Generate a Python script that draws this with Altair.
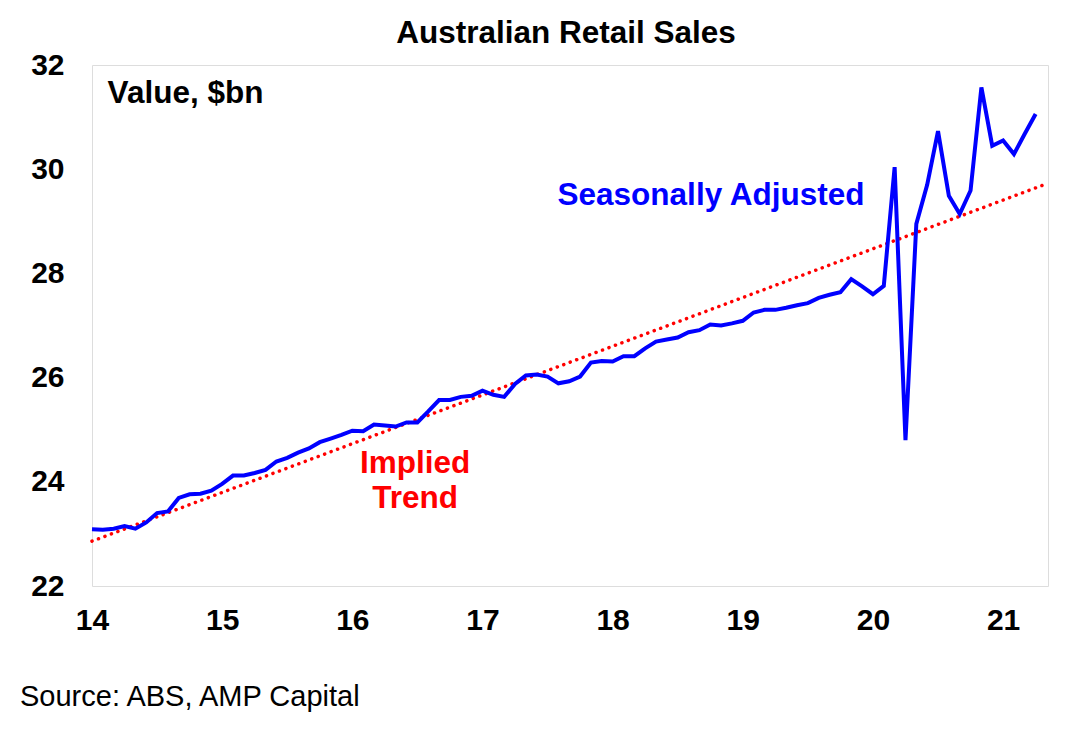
import altair as alt
import pandas as pd

# Monthly retail sales, Jan 2014 .. Apr 2021 ($bn, seasonally adjusted)
sales = [23.09, 23.08, 23.10, 23.15, 23.10, 23.22, 23.40, 23.43, 23.69, 23.76, 23.77, 23.83,
         23.96, 24.12, 24.12, 24.17, 24.23, 24.39, 24.46, 24.56, 24.64, 24.76, 24.83, 24.90,
         24.98, 24.97, 25.10, 25.08, 25.06, 25.14, 25.14, 25.35, 25.57, 25.57, 25.63, 25.65,
         25.75, 25.67, 25.63, 25.88, 26.04, 26.06, 26.02, 25.89, 25.93, 26.02, 26.29, 26.32,
         26.31, 26.41, 26.41, 26.56, 26.69, 26.73, 26.77, 26.87, 26.91, 27.02, 27.00, 27.04,
         27.09, 27.25, 27.30, 27.30, 27.34, 27.39, 27.43, 27.53, 27.59, 27.64, 27.89, 27.75,
         27.60, 27.76, 30.04, 24.80, 28.95, 29.70, 30.73, 29.49, 29.14, 29.59, 31.57, 30.45,
         30.55, 30.29, 30.68, 31.06]
start_year = 14

trend_x = [14.0, 21.345]
trend_y = [22.86, 29.73]

label_text = ["Value, $bn", "Seasonally Adjusted", "Implied", "Trend"]
label_x = [14.12, 18.756, 16.483, 16.483]
label_y = [31.27, 29.31, 24.17, 23.50]
label_color = ["#000000", "#0000FF", "#FF0000", "#FF0000"]
label_align = ["left", "center", "center", "center"]

x_ticks = [14, 15, 16, 17, 18, 19, 20, 21]
y_ticks = [22, 24, 26, 28, 30, 32]

FONT = "Liberation Sans"

sa = pd.DataFrame({"x": [start_year + i / 12 for i in range(len(sales))], "y": sales})
tr = pd.DataFrame({"x": trend_x, "y": trend_y})
lab = pd.DataFrame({"text": label_text, "x": label_x, "y": label_y,
                    "color": label_color, "align": label_align})

xs = alt.Scale(domain=[14, 21.345], nice=False, zero=False)
ys = alt.Scale(domain=[22, 32], nice=False, zero=False)

xaxis = alt.Axis(values=x_ticks, format="d", title=None, grid=False, ticks=False, domain=False,
                 labelFont=FONT, labelFontSize=30, labelFontWeight="bold", labelColor="#000000",
                 labelPadding=19, labelFlush=False)
yaxis = alt.Axis(values=y_ticks, format="d", title=None, grid=False, ticks=False, domain=False,
                 labelFont=FONT, labelFontSize=30, labelFontWeight="bold", labelColor="#000000",
                 labelPadding=28)

trend = alt.Chart(tr).mark_line(color="#FF0000", strokeWidth=3.5, strokeDash=[0.1, 6.8],
                                strokeCap="round").encode(
    x=alt.X("x:Q", scale=xs, axis=xaxis),
    y=alt.Y("y:Q", scale=ys, axis=yaxis),
)

line = alt.Chart(sa).mark_line(color="#0000FF", strokeWidth=4, strokeJoin="miter").encode(
    x=alt.X("x:Q", scale=xs),
    y=alt.Y("y:Q", scale=ys),
)

labels_left = alt.Chart(lab[lab["align"] == "left"]).mark_text(
    font=FONT, fontSize=31.5, fontWeight="bold", align="left", baseline="alphabetic").encode(
    x=alt.X("x:Q", scale=xs), y=alt.Y("y:Q", scale=ys), text="text:N",
    color=alt.Color("color:N", scale=None))

labels_center = alt.Chart(lab[lab["align"] == "center"]).mark_text(
    font=FONT, fontSize=31.5, fontWeight="bold", align="center", baseline="alphabetic").encode(
    x=alt.X("x:Q", scale=xs), y=alt.Y("y:Q", scale=ys), text="text:N",
    color=alt.Color("color:N", scale=None))

source = alt.Chart(pd.DataFrame({"t": ["Source: ABS, AMP Capital"]})).mark_text(
    font=FONT, fontSize=29, align="left", baseline="alphabetic", color="#000000").encode(
    x=alt.value(-72), y=alt.value(641), text="t:N")

chart = alt.layer(trend, line, labels_left, labels_center, source).properties(
    width=956, height=521,
    title=alt.TitleParams("Australian Retail Sales", font=FONT, fontSize=31.5, fontWeight="bold",
                          color="#000000", anchor="middle", offset=22, dx=-4, dy=21),
    autosize=alt.AutoSizeParams(type="none"),
    padding={"left": 84, "top": 57, "right": 17, "bottom": 136},
).configure_view(stroke="#333333", strokeWidth=1.5).configure(background="white")

chart.save("out.html", embed_options={"renderer": "svg", "actions": False})
